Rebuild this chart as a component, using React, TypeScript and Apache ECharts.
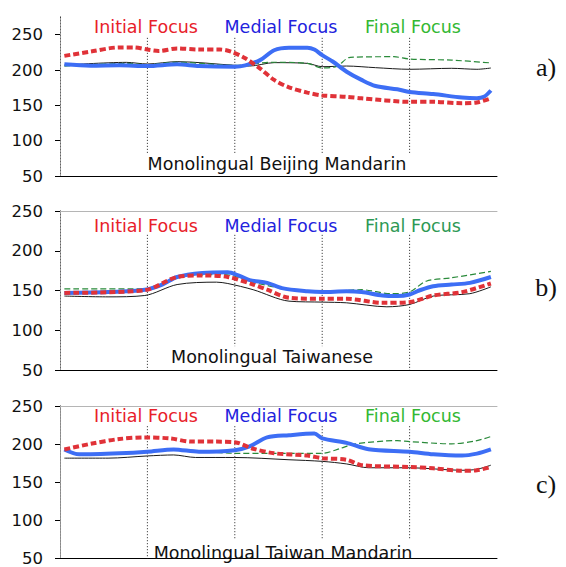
import { useEffect, useRef } from "react";
import * as echarts from "echarts";

// ---------- data ----------
const focusLabels = ["Initial Focus", "Medial Focus", "Final Focus"];
const panelTitles = [
  "Monolingual Beijing Mandarin",
  "Monolingual Taiwanese",
  "Monolingual Taiwan Mandarin",
];
const panelTags = ["a)", "b)", "c)"];
const yTicks = [50, 100, 150, 200, 250];
const yMax = [275, 250, 250];
const dividerX = [1, 2, 3, 4];
const dividerTop = [245.5, 220, 223.5];
const dividerBottom = [
  [81, 81, 81, 81],
  [50, 80, 80, 50],
  [50, 76.5, 76.5, 76.5],
];

// x in syllable-segment units (0..5)
const redA = [[0.05,220],[0.35,226],[0.68,232],[0.84,232],[1.0,229],[1.13,227],[1.34,230.5],[1.59,229],[1.83,229],[1.96,226],[2.12,216.5],[2.29,202],[2.45,186],[2.62,175.5],[2.83,168],[3.0,164],[3.28,162],[3.45,160],[4.0,155],[4.27,155],[4.6,153],[4.77,154],[4.93,160]];
const blueA = [[0.05,208],[0.35,206],[0.68,206.6],[1.0,205.6],[1.34,208],[1.59,205.6],[2.0,204.7],[2.12,206.6],[2.29,214],[2.45,228],[2.62,231.5],[2.83,231.5],[2.91,229],[3.0,221],[3.12,212],[3.28,197.6],[3.45,186],[3.61,177.4],[3.86,172.7],[4.0,169],[4.27,166],[4.6,161],[4.77,160],[4.85,162],[4.93,171]];
const greenA = [[0.05,205.6],[0.76,209.4],[1.0,207.5],[1.34,211],[2.0,206.6],[2.45,211],[2.83,209.4],[3.0,203],[3.16,204.7],[3.32,218],[3.82,218.8],[4.0,215.5],[4.48,214],[4.93,210]];
const blackA = [[0.05,207],[0.76,210.8],[1.0,208.5],[1.34,211.8],[2.0,206.6],[2.17,205.6],[2.45,210.4],[2.83,209.4],[3.0,204.7],[3.28,205.6],[3.61,203.3],[4.0,201],[4.48,202.4],[4.77,201],[4.93,202.8]];

const blueB = [[0.05,147],[0.55,148],[0.97,151],[1.17,157.5],[1.34,167],[1.63,172],[1.92,173],[2.04,169],[2.17,163],[2.37,159.6],[2.54,153],[2.83,149],[3.0,148],[3.28,149],[3.45,148],[3.69,143.7],[3.86,143],[4.0,145],[4.11,150],[4.27,155.4],[4.48,157.5],[4.69,159.6],[4.93,167]];
const redB = [[0.05,147],[0.97,150.4],[1.34,167],[1.63,169],[1.92,167],[2.21,157.5],[2.37,151],[2.62,140.8],[3.0,139.5],[3.28,139.5],[3.69,134.5],[4.0,135.4],[4.27,143.7],[4.6,148],[4.93,158.8]];
const greenB = [[0.05,152],[0.97,152],[1.34,166],[1.79,170],[1.96,169],[2.21,160.5],[2.62,151],[3.0,148],[3.45,151],[3.78,146],[4.0,148.3],[4.19,161.7],[4.48,166],[4.93,174]];
const blackB = [[0.05,143],[0.55,142],[0.97,143.7],[1.34,157.5],[1.79,160.5],[1.92,158.8],[2.21,151],[2.62,136.6],[3.0,135.4],[3.28,134.5],[3.74,129.5],[4.0,132.4],[4.27,143],[4.69,146],[4.93,154.6]];

const redC = [[0.05,193],[0.35,200.4],[0.68,206.7],[0.97,208.8],[1.26,207.5],[1.5,203.3],[1.79,203.3],[2.0,202.5],[2.21,194],[2.45,188],[2.83,185],[3.0,181.6],[3.28,179.5],[3.45,172.4],[4.0,170],[4.27,168.3],[4.6,165],[4.77,165.7],[4.93,170]];
const blueC = [[0.05,193],[0.22,186.6],[0.68,188],[1.0,190],[1.3,193],[1.59,190],[2.0,192],[2.17,197],[2.37,208.8],[2.62,211.7],[2.91,213.8],[3.0,207.5],[3.28,201.7],[3.53,193.3],[4.0,190],[4.27,186.6],[4.6,185],[4.77,187.5],[4.93,193]];
const greenC = [[0.05,192],[0.35,185.8],[1.0,190.8],[1.3,193],[2.0,188],[3.0,188],[3.2,194],[3.36,200],[3.86,204.6],[4.0,203.3],[4.48,200.4],[4.77,204.6],[4.93,210]];
const blackC = [[0.05,181.6],[0.55,181.6],[1.0,184.5],[1.3,185.8],[1.55,182.5],[2.0,182.5],[2.62,179.5],[3.0,177.4],[3.28,174],[3.53,169],[4.0,169],[4.6,165.7],[4.77,167],[4.93,172.4]];

const panels = [
  { red: redA, blue: blueA, green: greenA, black: blackA },
  { red: redB, blue: blueB, green: greenB, black: blackB },
  { red: redC, blue: blueC, green: greenC, black: blackC },
];

// ---------- layout / styles ----------
const FONT = "DejaVu Sans";
const gridTops = [17, 211, 406];
const gridHeights = [159, 159, 158];
const titleY = [27, 226, 416];
const bottomLabelY = [164, 357, 553];
const bottomLabelX = [277, 272, 283];
const tagY = [67, 287, 484];
const focusX = [146, 281, 413];
const focusColors = [
  ["#e8202a", "#2222dd", "#33b833"],
  ["#e8202a", "#2222dd", "#2e9955"],
  ["#e8202a", "#2222dd", "#33b833"],
];

function buildOption() {
  const grid: any[] = [];
  const xAxis: any[] = [];
  const yAxis: any[] = [];
  const series: any[] = [];
  const graphic: any[] = [];

  panels.forEach((p, i) => {
    grid.push({ left: 60, width: 437, top: gridTops[i], height: gridHeights[i] });
    const xi = xAxis.length;
    xAxis.push({
      type: "value", gridIndex: i, min: 0, max: 5, position: "bottom",
      axisLine: { show: true, lineStyle: { color: "#000", width: 1 } },
      axisTick: { show: false }, axisLabel: { show: false }, splitLine: { show: false },
    });
    xAxis.push({
      type: "value", gridIndex: i, min: 0, max: 5, position: "top",
      axisLine: { show: i > 0, lineStyle: { color: "#b5b5b5", width: 1 } },
      axisTick: { show: false }, axisLabel: { show: false }, splitLine: { show: false },
    });
    const yi = yAxis.length;
    yAxis.push({
      type: "value", gridIndex: i, min: 50, max: yMax[i], interval: 50, position: "left",
      axisLine: { show: true, lineStyle: { color: "#000", width: 1 } },
      axisTick: { show: true, length: 5, customValues: yTicks, lineStyle: { color: "#000" } },
      axisLabel: {
        customValues: yTicks, margin: 17, color: "#111",
        fontFamily: FONT, fontSize: 16.5,
      },
      splitLine: { show: false },
    });
    yAxis.push({
      type: "value", gridIndex: i, min: 50, max: yMax[i], position: "right",
      axisLine: { show: true, lineStyle: { color: "#9a9a9a", width: 1, type: [2, 1] } },
      axisTick: { show: false }, axisLabel: { show: false }, splitLine: { show: false },
    });

    dividerX.forEach((dx, k) => {
      series.push({
        type: "line", xAxisIndex: xi, yAxisIndex: yi, silent: true,
        symbol: "none", z: 1,
        data: [[dx, dividerTop[i]], [dx, dividerBottom[i][k]]],
        lineStyle: { color: "#222", width: 1, type: [1, 2] },
      });
    });

    series.push({
      type: "line", xAxisIndex: xi, yAxisIndex: yi, symbol: "none", smooth: 0.3, z: 2,
      data: p.black, lineStyle: { color: "#1a1a1a", width: 1 },
    });
    series.push({
      type: "line", xAxisIndex: xi, yAxisIndex: yi, symbol: "none", smooth: 0.3, z: 3,
      data: p.green, lineStyle: { color: "#2a8a3a", width: 1.2, type: [6, 3] },
    });
    series.push({
      type: "line", xAxisIndex: xi, yAxisIndex: yi, symbol: "none", smooth: 0.3, z: 4,
      data: p.blue, lineStyle: { color: "#3d6ef5", width: 4 },
    });
    series.push({
      type: "line", xAxisIndex: xi, yAxisIndex: yi, symbol: "none", smooth: 0.3, z: 5,
      data: p.red, lineStyle: { color: "#e03238", width: 4, type: [6, 3] },
    });

    focusLabels.forEach((t, k) => {
      graphic.push({
        type: "text", x: focusX[k], y: titleY[i], z: 10,
        style: {
          text: t, fill: focusColors[i][k], font: `17.5px "${FONT}"`,
          align: "center", verticalAlign: "middle",
        },
      });
    });
    graphic.push({
      type: "text", x: bottomLabelX[i], y: bottomLabelY[i], z: 10,
      style: {
        text: panelTitles[i], fill: "#111", font: `17.5px "${FONT}"`,
        align: "center", verticalAlign: "middle",
      },
    });
    graphic.push({
      type: "text", x: 546, y: tagY[i], z: 10,
      style: {
        text: panelTags[i], fill: "#111", font: `26px "Liberation Serif"`,
        align: "center", verticalAlign: "middle",
      },
    });
  });

  return { animation: false, backgroundColor: "#fff", grid, xAxis, yAxis, series, graphic };
}

export default function App() {
  const ref = useRef<HTMLDivElement>(null);
  useEffect(() => {
    if (!ref.current) return;
    const chart = echarts.init(ref.current, undefined, { renderer: "svg" });
    chart.setOption(buildOption() as any);
    return () => chart.dispose();
  }, []);
  return (
    <div
      ref={ref}
      style={{ width: 566, height: 567, position: "absolute", left: 0, top: 0 }}
    />
  );
}
